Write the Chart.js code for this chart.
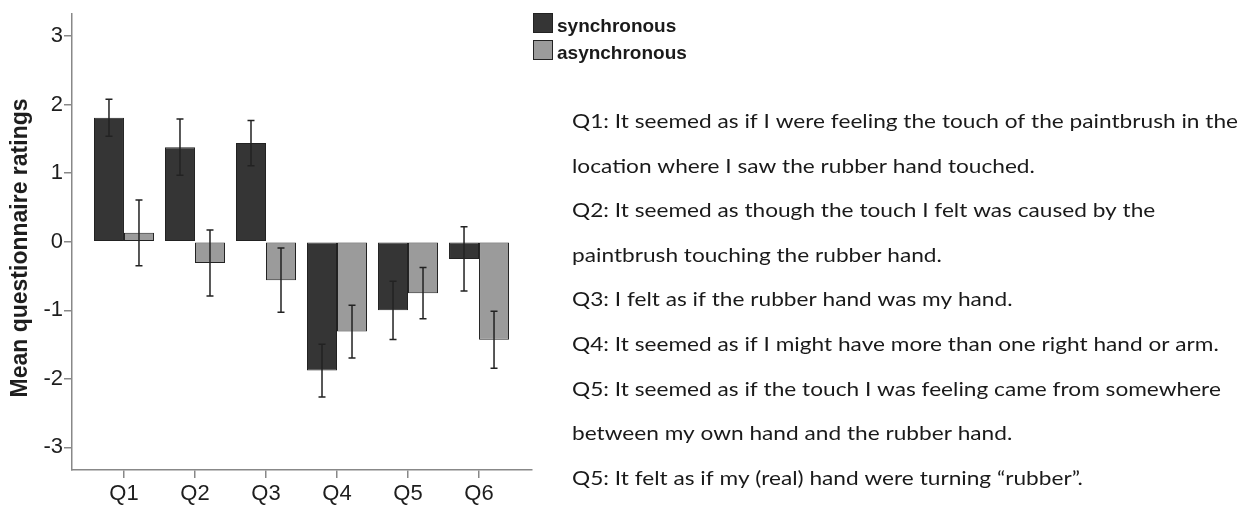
<!DOCTYPE html>
<html>
<head>
<meta charset="utf-8">
<script src="https://cdn.jsdelivr.net/npm/chart.js@4.4.1/dist/chart.umd.min.js"></script>
<style>
  html, body { margin: 0; padding: 0; background: #ffffff; }
  #wrap { width: 1249px; height: 507px; position: relative; }
</style>
</head>
<body>
<div id="wrap"><canvas id="c" width="1249" height="507"></canvas></div>
<script>
// ---- data ----
const categories = ['Q1', 'Q2', 'Q3', 'Q4', 'Q5', 'Q6'];
const seriesNames = ['synchronous', 'asynchronous'];
const syncMeans  = [1.81, 1.38, 1.44, -1.88, -1.00, -0.25];
const syncErrors = [0.27, 0.41, 0.33, 0.385, 0.425, 0.47];
const asyncMeans  = [0.13, -0.31, -0.56, -1.31, -0.75, -1.43];
const asyncErrors = [0.48, 0.48, 0.47, 0.385, 0.375, 0.415];
const yTicks = [-3, -2, -1, 0, 1, 2, 3];
const yTitle = 'Mean questionnaire ratings';
const descriptionLines = [
  'Q1: It seemed as if I were feeling the touch of the paintbrush in the',
  'location where I saw the rubber hand touched.',
  'Q2: It seemed as though the touch I felt was caused by the',
  'paintbrush touching the rubber hand.',
  'Q3: I felt as if the rubber hand was my hand.',
  'Q4: It seemed as if I might have more than one right hand or arm.',
  'Q5: It seemed as if the touch I was feeling came from somewhere',
  'between my own hand and the rubber hand.',
  'Q5: It felt as if my (real) hand were turning \u201crubber\u201d.'
];

// ---- styles ----
const FONT = '"Liberation Sans", Arial, sans-serif';
const colors = ['#353535', '#9b9b9b'];
const errSets = [syncErrors, asyncErrors];
const meanSets = [syncMeans, asyncMeans];

const errorBarPlugin = {
  id: 'errorBars',
  afterDatasetsDraw(chart) {
    const ctx = chart.ctx;
    const y = chart.scales.y;
    ctx.save();
    ctx.strokeStyle = '#222';
    ctx.lineWidth = 1.5;
    chart.data.datasets.forEach((ds, di) => {
      const meta = chart.getDatasetMeta(di);
      meta.data.forEach((bar, i) => {
        const m = meanSets[di][i], e = errSets[di][i];
        const yHi = y.getPixelForValue(m + e);
        const yLo = y.getPixelForValue(m - e);
        const x = bar.x;
        ctx.beginPath();
        ctx.moveTo(x, yHi); ctx.lineTo(x, yLo);
        ctx.moveTo(x - 3.5, yHi); ctx.lineTo(x + 3.5, yHi);
        ctx.moveTo(x - 3.5, yLo); ctx.lineTo(x + 3.5, yLo);
        ctx.stroke();
      });
    });
    ctx.restore();
  }
};

const decorPlugin = {
  id: 'decor',
  afterDraw(chart) {
    const ctx = chart.ctx;
    ctx.save();
    // y-axis title
    ctx.fillStyle = '#1e1e1e';
    ctx.font = 'bold 23px ' + FONT;
    ctx.textAlign = 'center';
    ctx.textBaseline = 'middle';
    ctx.translate(20.5, 248);
    ctx.rotate(-Math.PI / 2);
    ctx.fillText(yTitle, 0, 0);
    ctx.restore();

    // legend
    ctx.save();
    seriesNames.forEach((name, i) => {
      const top = 13 + i * 27;
      ctx.fillStyle = colors[i];
      ctx.fillRect(533, top, 20, 20);
      ctx.strokeStyle = '#222';
      ctx.lineWidth = 1;
      ctx.strokeRect(533.5, top + 0.5, 19, 19);
      ctx.fillStyle = '#1a1a1a';
      ctx.font = 'bold 19px ' + FONT;
      ctx.textAlign = 'left';
      ctx.textBaseline = 'alphabetic';
      ctx.fillText(name, 557, top + 19);
    });
    ctx.restore();

    // description text block
    ctx.save();
    ctx.fillStyle = '#1a1a1a';
    ctx.font = '19px Lato, "Open Sans", sans-serif';
    ctx.textAlign = 'left';
    ctx.textBaseline = 'alphabetic';
    const w0 = ctx.measureText(descriptionLines[0]).width;
    const sx = 666 / w0;
    descriptionLines.forEach((line, i) => {
      ctx.save();
      ctx.translate(572, 128 + i * 44.6);
      ctx.scale(sx, 1);
      ctx.fillText(line, 0, 0);
      ctx.restore();
    });
    ctx.restore();
  }
};

const ctx = document.getElementById('c').getContext('2d');
new Chart(ctx, {
  type: 'bar',
  data: {
    datasets: [
      {
        label: seriesNames[0],
        data: syncMeans.map((v, i) => ({ x: i, y: v })),
        backgroundColor: colors[0],
        borderColor: '#222',
        borderWidth: 1,
        borderSkipped: false
      },
      {
        label: seriesNames[1],
        data: asyncMeans.map((v, i) => ({ x: i, y: v })),
        backgroundColor: colors[1],
        borderColor: '#222',
        borderWidth: 1,
        borderSkipped: false
      }
    ]
  },
  options: {
    responsive: false,
    animation: false,
    devicePixelRatio: 1,
    categoryPercentage: 0.845,
    barPercentage: 1.0,
    layout: { padding: { left: 0, top: 10, right: 717, bottom: 0 } },
    plugins: {
      legend: { display: false },
      tooltip: { enabled: false }
    },
    scales: {
      x: {
        type: 'linear',
        position: 'bottom',
        offset: false,
        min: -0.732,
        max: 5.746,
        afterBuildTicks: (s) => { s.ticks = categories.map((_, i) => ({ value: i })); },
        afterFit: (s) => { s.height = 37; },
        ticks: {
          autoSkip: false,
          maxRotation: 0,
          padding: 3,
          color: '#1e1e1e',
          font: { family: FONT, size: 22 },
          callback: (v) => categories[v]
        },
        grid: { display: true, offset: false, drawOnChartArea: false, drawTicks: true, tickLength: 8, color: '#888', lineWidth: 1.5 },
        border: { display: true, color: '#888', width: 1.5 }
      },
      y: {
        type: 'linear',
        min: -3.33,
        max: 3.32,
        afterBuildTicks: (s) => { s.ticks = yTicks.map(v => ({ value: v })); },
        afterFit: (s) => { s.width = 72; },
        ticks: {
          padding: 1,
          color: '#1e1e1e',
          font: { family: FONT, size: 22 },
          callback: (v) => String(v)
        },
        grid: { display: true, drawOnChartArea: false, drawTicks: true, tickLength: 8, color: '#888', lineWidth: 1.5 },
        border: { display: true, color: '#888', width: 1.5 }
      }
    }
  },
  plugins: [errorBarPlugin, decorPlugin]
});
</script>
</body>
</html>
